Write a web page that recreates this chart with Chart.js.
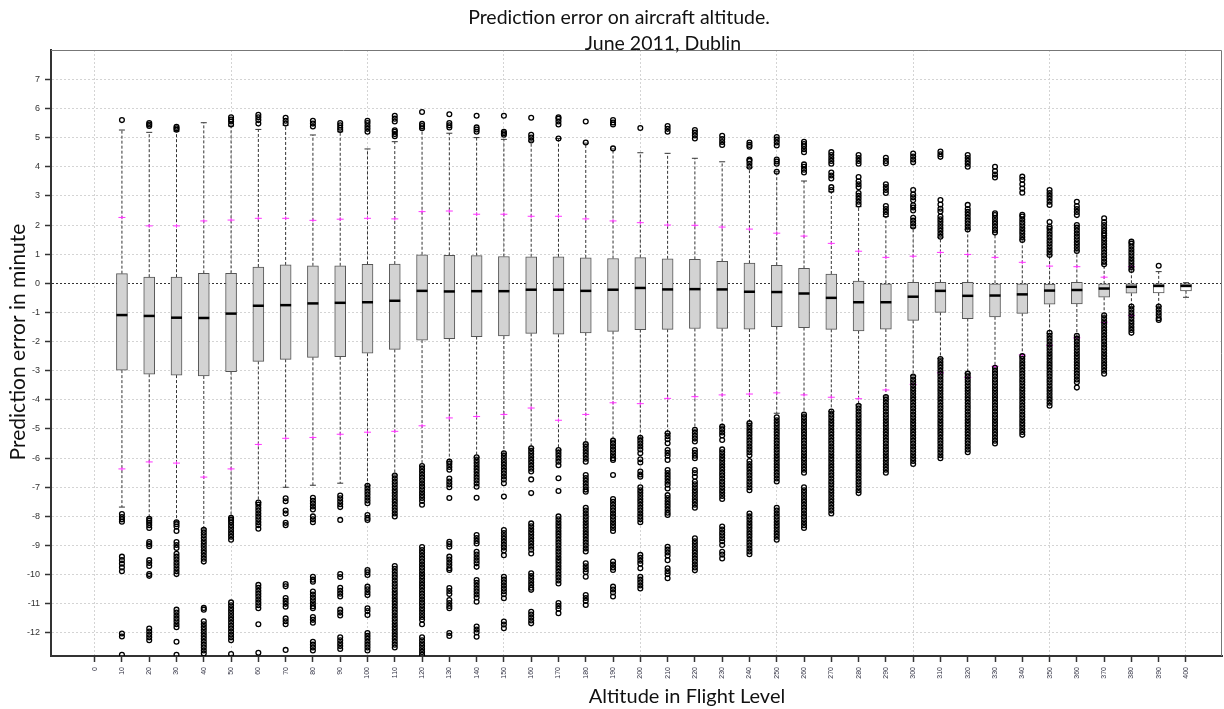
<!DOCTYPE html>
<html>
<head>
<meta charset="utf-8">
<title>Prediction error on aircraft altitude</title>
<script src="https://cdn.jsdelivr.net/npm/chart.js@4.4.0/dist/chart.umd.min.js"></script>
<style>
  html, body { margin: 0; padding: 0; background: #fff; }
</style>
</head>
<body>
<canvas id="graficoErro" width="1224" height="709"></canvas>
<script>
// Níveis de voo (categorias do eixo x)
const altitudes = [10,20,30,40,50,60,70,80,90,100,110,120,130,140,150,160,170,180,190,200,
                   210,220,230,240,250,260,270,280,290,300,310,320,330,340,350,360,370,380,390,400];

// Quartis e mediana (minutos)
const boxTop = [0.33,0.21,0.21,0.34,0.34,0.56,0.63,0.6,0.6,0.65,
                0.66,0.98,0.96,0.95,0.92,0.91,0.91,0.87,0.85,0.88,
                0.84,0.82,0.75,0.69,0.62,0.51,0.32,0.08,0.0,0.03,
                0.03,0.03,0.0,0.0,-0.03,0.03,-0.02,0.0,-0.02,0.0];
const medians = [-1.09,-1.12,-1.18,-1.19,-1.04,-0.77,-0.75,-0.69,-0.67,-0.65,
                 -0.6,-0.26,-0.28,-0.27,-0.27,-0.22,-0.22,-0.26,-0.22,-0.16,
                 -0.21,-0.2,-0.21,-0.29,-0.3,-0.35,-0.5,-0.65,-0.65,-0.46,
                 -0.26,-0.43,-0.42,-0.38,-0.25,-0.23,-0.18,-0.12,-0.09,-0.09];
const boxBottom = [-2.98,-3.12,-3.15,-3.18,-3.03,-2.68,-2.61,-2.54,-2.52,-2.4,
                   -2.27,-1.95,-1.9,-1.83,-1.81,-1.72,-1.75,-1.7,-1.65,-1.59,
                   -1.58,-1.55,-1.55,-1.57,-1.49,-1.52,-1.58,-1.63,-1.57,-1.27,
                   -1.0,-1.21,-1.15,-1.03,-0.72,-0.71,-0.48,-0.34,-0.33,-0.26];

// Extremos dos bigodes
const whiskerHigh = [5.26,5.18,5.22,5.51,5.4,5.28,5.42,5.09,5.2,4.61,
                     4.86,5.3,5.15,5.0,4.94,4.88,4.97,4.81,4.61,4.48,
                     4.46,4.29,4.17,3.97,3.83,3.51,3.14,2.63,2.29,1.91,
                     1.58,1.85,1.74,1.49,0.97,1.11,0.65,0.46,0.4,0.02];
const whiskerLow = [-7.68,-8.05,-8.18,-8.43,-8.05,-7.52,-7.0,-6.93,-6.86,-6.93,
                    -6.58,-6.27,-6.12,-5.97,-5.83,-5.66,-5.72,-5.52,-5.4,-5.3,
                    -5.15,-5.03,-4.92,-4.8,-4.46,-4.52,-4.4,-4.17,-3.87,-3.17,
                    -2.58,-3.09,-2.9,-2.52,-1.72,-1.85,-1.12,-0.8,-0.79,-0.48];

// Marcas magenta (acima e abaixo)
const markHigh = [2.26,1.97,1.97,2.14,2.17,2.23,2.23,2.16,2.2,2.23,
                  2.21,2.46,2.48,2.37,2.37,2.3,2.3,2.21,2.14,2.08,
                  2.0,1.99,1.93,1.86,1.72,1.62,1.37,1.1,0.89,0.93,
                  1.06,0.99,0.89,0.72,0.59,0.57,0.21,0.57,null,null];
const markLow = [-6.37,-6.13,-6.17,-6.65,-6.37,-5.53,-5.32,-5.29,-5.18,-5.11,
                 -5.08,-4.89,-4.62,-4.57,-4.5,-4.28,-4.7,-4.5,-4.1,-4.13,
                 -3.95,-3.89,-3.83,-3.8,-3.76,-3.83,-3.91,-3.96,-3.66,-3.47,
                 -3.07,-3.23,-2.85,-2.46,-2.13,-1.87,-1.34,-1.11,null,null];

// Valores atípicos, um vetor por nível de voo
const outliers = [
  [5.6,-7.92,-8.02,-8.1,-8.18,-9.38,-9.5,-9.62,-9.75,-9.88,-12.02,-12.12,-12.75],
  [5.4,5.45,5.5,-8.08,-8.15,-8.22,-8.3,-8.4,-8.88,-8.95,-9.02,-9.5,-9.6,-9.7,-9.98,-10.04,-11.85,-11.95,-12.05,-12.15,-12.25],
  [5.27,5.32,5.37,-8.2,-8.27,-8.35,-8.5,-8.88,-8.98,-9.08,-9.28,-9.38,-9.48,-9.58,-9.68,-9.78,-9.88,-9.98,-11.2,-11.3,-11.4,-11.5,-11.6,-11.7,-11.8,-12.3,-12.75],
  [-8.46,-8.55,-8.65,-8.75,-8.85,-8.95,-9.05,-9.15,-9.25,-9.35,-9.45,-9.55,-11.14,-11.2,-11.6,-11.7,-11.8,-11.9,-12.0,-12.1,-12.2,-12.3,-12.4,-12.5,-12.6,-12.7],
  [5.45,5.55,5.62,5.7,-8.05,-8.12,-8.2,-8.3,-8.4,-8.5,-8.6,-8.7,-8.8,-10.95,-11.05,-11.15,-11.25,-11.35,-11.45,-11.55,-11.65,-11.75,-11.85,-11.95,-12.05,-12.15,-12.25,-12.72],
  [5.48,5.6,5.7,5.78,-7.52,-7.6,-7.7,-7.8,-7.9,-8.0,-8.1,-8.2,-8.3,-8.42,-10.35,-10.45,-10.55,-10.65,-10.75,-10.85,-10.95,-11.05,-11.15,-11.7,-12.68],
  [5.48,5.58,5.68,-7.38,-7.48,-7.8,-7.9,-8.22,-8.3,-10.32,-10.4,-10.8,-10.9,-11.0,-11.1,-11.5,-11.6,-11.7,-12.58],
  [5.38,5.48,5.58,-7.36,-7.46,-7.56,-7.66,-7.76,-8.0,-8.1,-8.2,-10.07,-10.17,-10.24,-10.58,-10.68,-10.78,-10.88,-10.98,-11.08,-11.15,-11.45,-11.55,-11.65,-12.3,-12.4,-12.5,-12.6],
  [5.26,5.34,5.42,5.5,-7.28,-7.38,-7.48,-7.58,-7.68,-8.12,-9.98,-10.08,-10.45,-10.55,-10.65,-10.75,-11.2,-11.3,-11.4,-12.15,-12.25,-12.35,-12.45,-12.55],
  [5.2,5.3,5.4,5.5,5.58,-6.95,-7.05,-7.15,-7.25,-7.35,-7.45,-7.55,-7.95,-8.05,-8.12,-9.84,-9.92,-10.01,-10.41,-10.5,-10.6,-10.7,-11.15,-11.25,-11.38,-12.0,-12.1,-12.2,-12.3,-12.4,-12.5,-12.6],
  [5.05,5.12,5.2,5.25,5.55,5.65,5.75,-6.6,-6.7,-6.8,-6.9,-7.0,-7.1,-7.2,-7.3,-7.4,-7.5,-7.6,-7.7,-7.8,-7.9,-8.0,
   -9.7,-9.8,-9.9,-10.0,-10.1,-10.2,-10.3,-10.4,-10.5,-10.6,-10.7,-10.8,-10.9,-11.0,-11.1,-11.2,-11.3,-11.4,-11.5,-11.6,-11.7,-11.8,-11.9,-12.0,-12.1,-12.2,-12.3,-12.4,-12.5],
  [5.32,5.4,5.47,5.88,-6.27,-6.37,-6.47,-6.57,-6.67,-6.77,-6.87,-6.97,-7.07,-7.17,-7.27,-7.37,-7.47,-7.6,
   -9.05,-9.15,-9.25,-9.35,-9.45,-9.55,-9.65,-9.75,-9.85,-9.95,-10.05,-10.15,-10.25,-10.35,-10.45,-10.55,-10.65,-10.75,-10.85,-10.95,-11.05,-11.15,-11.25,-11.35,-11.45,-11.55,-11.7,
   -12.15,-12.25,-12.35,-12.45,-12.55,-12.65,-12.75],
  [5.35,5.42,5.5,5.8,-6.12,-6.2,-6.3,-6.4,-6.7,-6.8,-6.9,-7.0,-7.37,-8.87,-8.95,-9.04,-9.38,-9.48,-9.58,-9.68,-9.78,-9.84,-10.46,-10.56,-10.66,-10.87,-10.97,-11.07,-11.15,-12.0,-12.1],
  [5.2,5.28,5.35,5.75,-5.97,-6.07,-6.17,-6.27,-6.37,-6.47,-6.57,-6.67,-6.77,-6.87,-6.98,-7.36,-8.64,-8.74,-8.84,-8.93,-9.21,-9.31,-9.41,-9.51,-9.61,-9.73,
   -10.18,-10.28,-10.38,-10.48,-10.58,-10.68,-10.78,-10.93,-11.78,-11.88,-11.98,-12.13],
  [5.1,5.15,5.2,5.75,-5.83,-5.93,-6.03,-6.13,-6.23,-6.33,-6.43,-6.53,-6.63,-6.73,-6.86,-7.32,-8.47,-8.57,-8.67,-8.77,-8.87,-8.97,-9.07,-9.17,-9.33,
   -10.07,-10.17,-10.27,-10.37,-10.47,-10.57,-10.67,-10.81,-11.61,-11.71,-11.84],
  [4.9,5.0,5.1,5.68,-5.66,-5.76,-5.86,-5.96,-6.06,-6.16,-6.26,-6.36,-6.46,-6.73,-7.2,-8.24,-8.34,-8.44,-8.54,-8.64,-8.74,-8.84,-8.94,-9.04,-9.14,-9.27,
   -9.95,-10.05,-10.15,-10.25,-10.35,-10.45,-10.52,-11.27,-11.37,-11.47,-11.57,-11.67],
  [4.97,5.45,5.55,5.65,5.7,-5.72,-5.82,-5.92,-6.02,-6.12,-6.24,-6.69,-7.13,
   -8.0,-8.1,-8.2,-8.3,-8.4,-8.5,-8.6,-8.7,-8.8,-8.9,-9.0,-9.1,-9.2,-9.3,-9.4,-9.5,-9.6,-9.7,-9.8,-9.9,-10.0,-10.1,-10.2,-10.3,
   -10.97,-11.07,-11.17,-11.32],
  [4.83,5.55,-5.52,-5.62,-5.72,-5.82,-5.92,-6.02,-6.12,-6.58,-6.68,-6.78,-6.88,-6.98,-7.08,-7.15,
   -7.7,-7.8,-7.9,-8.0,-8.1,-8.2,-8.3,-8.4,-8.5,-8.6,-8.7,-8.8,-8.9,-9.0,-9.1,-9.2,-9.61,-9.71,-9.81,-9.91,-10.07,-10.7,-10.8,-10.9,-11.04],
  [4.63,5.45,5.52,5.6,-5.4,-5.5,-5.6,-5.7,-5.8,-5.9,-6.0,-6.06,-6.58,-7.4,-7.5,-7.6,-7.7,-7.8,-7.9,-8.0,-8.1,-8.2,-8.3,-8.4,-8.5,
   -9.55,-9.65,-9.75,-9.84,-10.41,-10.51,-10.61,-10.75],
  [5.33,-5.3,-5.4,-5.5,-5.6,-5.7,-5.83,-6.04,-6.15,-6.46,-6.56,-6.64,-7.0,-7.1,-7.2,-7.3,-7.4,-7.5,-7.6,-7.7,-7.8,-7.9,-8.0,-8.1,-8.2,
   -9.32,-9.42,-9.52,-9.62,-9.78,-10.07,-10.17,-10.27,-10.37,-10.47],
  [5.2,5.3,5.4,-5.15,-5.25,-5.35,-5.49,-5.72,-5.82,-5.92,-6.06,-6.41,-6.51,-6.61,-6.71,-6.81,-6.91,-7.04,-7.27,-7.37,-7.47,-7.57,-7.67,-7.77,-7.87,-7.95,
   -9.04,-9.14,-9.24,-9.34,-9.5,-9.78,-9.88,-9.98,-10.12],
  [4.97,5.07,5.17,5.26,-5.03,-5.13,-5.23,-5.33,-5.43,-5.72,-5.82,-5.92,-6.0,-6.41,-6.51,-6.64,-6.8,-6.9,-7.0,-7.1,-7.2,-7.3,-7.4,-7.5,-7.6,-7.7,
   -8.75,-8.85,-8.95,-9.05,-9.15,-9.25,-9.35,-9.45,-9.55,-9.65,-9.75,-9.85],
  [4.75,4.85,4.95,5.06,-4.92,-5.02,-5.12,-5.22,-5.38,-5.7,-5.8,-5.9,-6.0,-6.1,-6.2,-6.3,-6.4,-6.5,-6.6,-6.7,-6.8,-6.9,-7.0,-7.1,-7.2,-7.3,-7.4,
   -8.35,-8.45,-8.55,-8.65,-8.75,-8.85,-8.98,-9.21,-9.31,-9.44],
  [4.0,4.1,4.2,4.25,4.69,4.75,4.83,-4.8,-4.9,-5.0,-5.1,-5.2,-5.3,-5.4,-5.5,-5.6,-5.7,-5.8,-5.9,
   -6.1,-6.2,-6.3,-6.4,-6.5,-6.6,-6.7,-6.8,-6.9,-7.0,-7.1,-7.9,-8.0,-8.1,-8.2,-8.3,-8.4,-8.5,-8.6,-8.7,-8.8,-8.9,-9.0,-9.1,-9.2,-9.3],
  [3.83,4.1,4.18,4.25,4.73,4.83,4.93,5.02,-4.6,-4.7,-4.8,-4.9,-5.0,-5.1,-5.2,-5.3,-5.4,-5.5,-5.6,-5.7,-5.8,-5.9,-6.0,-6.1,-6.2,-6.3,-6.4,-6.5,-6.6,-6.7,-6.8,
   -7.7,-7.8,-7.9,-8.0,-8.1,-8.2,-8.3,-8.4,-8.5,-8.6,-8.7,-8.8],
  [3.8,3.9,4.0,4.08,4.5,4.6,4.7,4.78,4.86,-4.5,-4.6,-4.7,-4.8,-4.9,-5.0,-5.1,-5.2,-5.3,-5.4,-5.5,-5.6,-5.7,-5.8,-5.9,-6.0,-6.1,-6.2,-6.3,-6.4,-6.5,
   -7.0,-7.1,-7.2,-7.3,-7.4,-7.5,-7.6,-7.7,-7.8,-7.9,-8.0,-8.1,-8.2,-8.3,-8.4],
  [3.2,3.3,3.6,3.7,3.8,4.1,4.2,4.3,4.4,4.5,-4.4,-4.5,-4.6,-4.7,-4.8,-4.9,-5.0,-5.1,-5.2,-5.3,-5.4,-5.5,-5.6,-5.7,-5.8,-5.9,-6.0,-6.1,-6.2,-6.3,
   -6.4,-6.5,-6.6,-6.7,-6.8,-6.9,-7.0,-7.1,-7.2,-7.3,-7.4,-7.5,-7.6,-7.7,-7.8,-7.9],
  [2.7,2.8,2.9,3.0,3.1,3.3,3.4,3.5,3.65,4.1,4.2,4.3,4.4,-4.2,-4.3,-4.4,-4.5,-4.6,-4.7,-4.8,-4.9,-5.0,-5.1,-5.2,-5.3,-5.4,-5.5,-5.6,-5.7,-5.8,-5.9,
   -6.0,-6.1,-6.2,-6.3,-6.4,-6.5,-6.6,-6.7,-6.8,-6.9,-7.0,-7.1,-7.2],
  [2.35,2.45,2.55,2.65,3.1,3.2,3.3,3.4,4.12,4.2,4.31,-3.9,-4.0,-4.1,-4.2,-4.3,-4.4,-4.5,-4.6,-4.7,-4.8,-4.9,-5.0,-5.1,-5.2,-5.3,-5.4,-5.5,-5.6,-5.7,
   -5.8,-5.9,-6.0,-6.1,-6.2,-6.3,-6.4,-6.5],
  [1.95,2.05,2.15,2.25,2.5,2.6,2.68,2.85,2.95,3.05,3.2,4.15,4.25,4.35,4.45,-3.2,-3.3,-3.4,-3.5,-3.6,-3.7,-3.8,-3.9,-4.0,-4.1,-4.2,-4.3,-4.4,-4.5,-4.6,
   -4.7,-4.8,-4.9,-5.0,-5.1,-5.2,-5.3,-5.4,-5.5,-5.6,-5.7,-5.8,-5.9,-6.0,-6.1,-6.2],
  [1.6,1.7,1.8,1.9,2.0,2.1,2.2,2.29,2.46,2.56,2.7,2.86,4.34,4.43,4.52,-2.6,-2.7,-2.8,-2.9,-3.0,-3.1,-3.2,-3.3,-3.4,-3.5,-3.6,-3.7,-3.8,-3.9,-4.0,
   -4.1,-4.2,-4.3,-4.4,-4.5,-4.6,-4.7,-4.8,-4.9,-5.0,-5.1,-5.2,-5.3,-5.4,-5.5,-5.6,-5.7,-5.8,-5.9,-6.0],
  [1.85,1.95,2.05,2.15,2.25,2.35,2.45,2.55,2.69,4.0,4.1,4.2,4.3,4.4,-3.1,-3.2,-3.3,-3.4,-3.5,-3.6,-3.7,-3.8,-3.9,-4.0,-4.1,-4.2,-4.3,-4.4,
   -4.5,-4.6,-4.7,-4.8,-4.9,-5.0,-5.1,-5.2,-5.3,-5.4,-5.5,-5.6,-5.7,-5.8],
  [1.74,1.84,1.94,2.04,2.14,2.24,2.34,2.4,3.63,3.73,3.85,4.0,-2.9,-3.0,-3.1,-3.2,-3.3,-3.4,-3.5,-3.6,-3.7,-3.8,-3.9,-4.0,-4.1,-4.2,-4.3,
   -4.4,-4.5,-4.6,-4.7,-4.8,-4.9,-5.0,-5.1,-5.2,-5.3,-5.4,-5.5],
  [1.49,1.59,1.69,1.79,1.89,1.99,2.09,2.19,2.29,2.35,3.11,3.25,3.4,3.55,3.66,-2.5,-2.6,-2.7,-2.8,-2.9,-3.0,-3.1,-3.2,-3.3,-3.4,-3.5,-3.6,
   -3.7,-3.8,-3.9,-4.0,-4.1,-4.2,-4.3,-4.4,-4.5,-4.6,-4.7,-4.8,-4.9,-5.0,-5.1,-5.2],
  [0.97,1.07,1.17,1.27,1.37,1.47,1.57,1.67,1.77,1.87,1.94,2.1,2.69,2.8,2.9,3.0,3.1,3.2,-1.7,-1.8,-1.9,-2.0,-2.1,-2.2,-2.3,-2.4,-2.5,-2.6,
   -2.7,-2.8,-2.9,-3.0,-3.1,-3.2,-3.3,-3.4,-3.5,-3.6,-3.7,-3.8,-3.9,-4.0,-4.1,-4.2],
  [1.11,1.21,1.31,1.41,1.51,1.61,1.71,1.81,1.91,2.0,2.34,2.45,2.55,2.65,2.8,-1.8,-1.9,-2.0,-2.1,-2.2,-2.3,-2.4,-2.5,-2.6,-2.7,-2.8,-2.9,
   -3.0,-3.1,-3.2,-3.3,-3.4,-3.58],
  [0.65,0.75,0.85,0.95,1.05,1.15,1.25,1.35,1.45,1.55,1.65,1.72,1.8,1.9,2.0,2.1,2.23,-1.1,-1.2,-1.3,-1.4,-1.5,-1.6,-1.7,-1.8,-1.9,-2.0,
   -2.1,-2.2,-2.3,-2.4,-2.5,-2.6,-2.7,-2.8,-2.9,-3.0,-3.1],
  [0.46,0.56,0.66,0.76,0.86,0.96,1.06,1.16,1.26,1.36,1.43,-0.8,-0.9,-1.0,-1.1,-1.2,-1.3,-1.4,-1.5,-1.6,-1.7],
  [0.6,-0.8,-0.9,-1.0,-1.1,-1.2,-1.26],
  []
];

// Rótulos dos eixos
const xTicks = [0,10,20,30,40,50,60,70,80,90,100,110,120,130,140,150,160,170,180,190,200,
                210,220,230,240,250,260,270,280,290,300,310,320,330,340,350,360,370,380,390,400];
const yTicks = [-12,-11,-10,-9,-8,-7,-6,-5,-4,-3,-2,-1,0,1,2,3,4,5,6,7];

// Montagem dos pontos a partir dos vetores
const whiskerPts = [];
altitudes.forEach((alt, i) => {
  whiskerPts.push({x: alt, y: boxTop[i]}, {x: alt, y: whiskerHigh[i]}, {x: alt, y: null});
  whiskerPts.push({x: alt, y: boxBottom[i]}, {x: alt, y: whiskerLow[i]}, {x: alt, y: null});
});
const caps = altitudes.flatMap((alt, i) => [{x: alt, y: whiskerHigh[i]}, {x: alt, y: whiskerLow[i]}]);
const marks = altitudes.flatMap((alt, i) => [{x: alt, y: markHigh[i]}, {x: alt, y: markLow[i]}])
  .filter(p => p.y !== null);
const outlierPts = altitudes.flatMap((alt, i) => outliers[i].map(v => ({x: alt, y: v})));

// Título, rótulos dos eixos e moldura
const textos = {
  id: 'textos',
  afterDraw(chart) {
    const c = chart.ctx;
    const a = chart.chartArea;
    c.save();
    c.strokeStyle = '#777';
    c.lineWidth = 1;
    c.beginPath();
    c.moveTo(a.left, a.top + 0.5);
    c.lineTo(a.right - 0.5, a.top + 0.5);
    c.lineTo(a.right - 0.5, a.bottom);
    c.stroke();

    c.fillStyle = '#111';
    c.textAlign = 'center';
    c.textBaseline = 'middle';
    c.font = '19.5px Lato';
    c.fillText('Prediction error on aircraft altitude.', 619, 18);
    c.fillText('June 2011, Dublin', 663, 44);
    c.font = '20px Lato';
    c.fillText('Altitude in Flight Level', 687, 697);
    c.font = '21px Lato';
    c.translate(18, 342);
    c.rotate(-Math.PI / 2);
    c.fillText('Prediction error in minute', 0, 0);
    c.restore();
  }
};

const ctx = document.getElementById('graficoErro').getContext('2d');
new Chart(ctx, {
  data: {
    datasets: [
      {
        type: 'line',
        data: whiskerPts,
        borderColor: '#333',
        borderWidth: 1,
        borderDash: [3, 2],
        pointRadius: 0,
        spanGaps: false,
        order: 6
      },
      {
        type: 'bar',
        data: altitudes.map((alt, i) => ({x: alt, y: [boxBottom[i], boxTop[i]]})),
        backgroundColor: altitudes.map(alt => alt >= 390 ? '#ffffff' : '#d3d3d3'),
        borderColor: '#555',
        borderWidth: 1,
        borderSkipped: false,
        barThickness: 11,
        order: 5
      },
      {
        type: 'scatter',
        data: caps,
        pointStyle: 'line',
        pointRadius: 3,
        borderWidth: 1,
        borderColor: '#333',
        order: 4
      },
      {
        type: 'scatter',
        data: altitudes.map((alt, i) => ({x: alt, y: medians[i]})),
        pointStyle: 'line',
        pointRadius: 5.5,
        borderWidth: 2.5,
        borderColor: '#000',
        order: 3
      },
      {
        type: 'scatter',
        data: marks,
        pointStyle: 'line',
        pointRadius: 3.5,
        borderWidth: 1,
        borderColor: '#ff33ff',
        order: 2
      },
      {
        type: 'scatter',
        data: marks,
        pointStyle: 'line',
        rotation: 90,
        pointRadius: 1.8,
        borderWidth: 1,
        borderColor: '#ff33ff',
        order: 2
      },
      {
        type: 'scatter',
        data: outlierPts,
        pointStyle: 'circle',
        pointRadius: 2.4,
        borderWidth: 1.3,
        borderColor: '#000',
        backgroundColor: 'rgba(0,0,0,0)',
        order: 1
      }
    ]
  },
  options: {
    responsive: false,
    animation: false,
    events: [],
    layout: { autoPadding: false, padding: { top: 50, right: 2, left: 0, bottom: 0 } },
    plugins: {
      legend: { display: false },
      tooltip: { enabled: false }
    },
    scales: {
      x: {
        type: 'linear',
        offset: false,
        min: -16,
        max: 413.2,
        afterBuildTicks: s => { s.ticks = xTicks.map(v => ({value: v})); },
        afterFit: s => { s.height = 53; s.paddingLeft = 0; s.paddingRight = 0; },
        ticks: {
          autoSkip: false,
          minRotation: 90,
          maxRotation: 90,
          padding: 5,
          color: '#334',
          font: { family: 'Liberation Sans', size: 7 }
        },
        grid: {
          offset: false,
          color: c => (c.tick && c.tick.value % 50 === 0) ? '#d4d4d4' : 'rgba(0,0,0,0)',
          tickColor: '#333',
          tickLength: 6,
          tickWidth: 1.5
        },
        border: { color: '#333', width: 2, dash: [2, 2] }
      },
      y: {
        type: 'linear',
        min: -12.79,
        max: 8.006,
        afterBuildTicks: s => { s.ticks = yTicks.map(v => ({value: v})); },
        afterFit: s => { s.width = 51; s.paddingTop = 0; s.paddingBottom = 0; },
        ticks: {
          padding: 5,
          color: '#333',
          font: { family: 'Liberation Sans', size: 9 }
        },
        grid: {
          color: c => (c.tick && c.tick.value === 0) ? '#333' : '#d4d4d4',
          tickColor: '#333',
          tickLength: 6,
          tickWidth: 1.5
        },
        border: { color: '#333', width: 2, dash: [2, 2] }
      }
    }
  },
  plugins: [textos]
});
</script>
</body>
</html>
